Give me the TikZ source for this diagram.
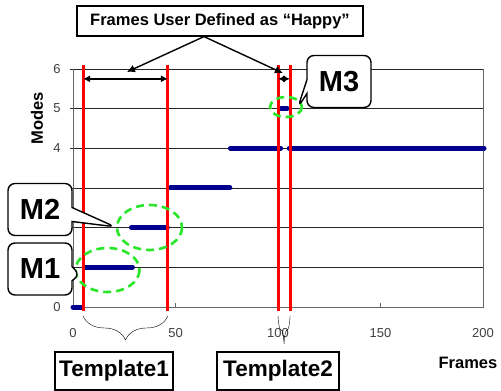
\documentclass[tikz,border=0pt]{standalone}
\usepackage{fontspec}
\setmainfont{Liberation Sans}
\usetikzlibrary{shapes.callouts,decorations.pathreplacing,arrows.meta}
\definecolor{datablue}{RGB}{0,0,140}
\definecolor{ringgreen}{RGB}{40,230,40}
\tikzset{
  labelbox/.style={draw, line width=1.2pt, fill=white, inner sep=2pt, font=\bfseries\fontsize{22.5}{22.5}\selectfont},
  callbox/.style={rectangle callout, draw, line width=1.4pt, rounded corners=7pt, fill=white, minimum width=64pt,
    minimum height=52pt, callout pointer width=14pt, font=\bfseries\fontsize{29}{29}\selectfont},
  modeline/.style={datablue, line width=5pt, line cap=round},
  cutline/.style={red, line width=3pt},
  ring/.style={ringgreen, line width=2.6pt, dash pattern=on 8pt off 5pt},
  ticklabel/.style={font=\fontsize{13}{13}\selectfont, text=black!75},
  axistitle/.style={font=\bfseries\fontsize{16.5}{16.5}\selectfont},
  pointer/.style={line width=1.4pt, -{Latex[length=8pt,width=8pt]}},
  span/.style={line width=1.4pt, {Latex[length=7pt,width=7pt]}-{Latex[length=7pt,width=7pt]}}
}
\begin{document}
\begin{tikzpicture}[x=1pt, y=-1pt]
\useasboundingbox (0,0) rectangle (501,391);
\begin{scope}[shift={(73,307)}, x=2.05pt, y=39.7pt]
  \foreach \m in {1,...,6} \draw[black!85, thin] (-1.5,\m) -- (200,\m);
  \draw[black!60, thin] (0,6) -- (0,0) -- (200,0) -- (200,6);
  \foreach \f in {50,100,150} \draw[black!60, thin] (\f,0) -- (\f,0.1);
  \foreach \m in {0,4,5,6} \node[ticklabel] (y\m) at (-7.8,\m) {\m};
  \foreach \f in {0,50,100,150,200} \node[ticklabel] (x\f) at (\f,-0.655) {\f};
  % modes over the frames
  \draw[modeline] (0,0) -- (4.5,0);
  \draw[modeline] (5.8,1) -- (29,1);
  \draw[modeline] (28.5,2) -- (46,2);
  \draw[modeline] (47.5,3) -- (76.5,3);
  \draw[modeline] (76.8,4) -- (101.3,4);
  \draw[modeline] (105.5,4) -- (200.5,4);
  \draw[modeline] (101.5,5) -- (104.5,5);
  \coordinate (r1t) at (4.9,6.1);   \coordinate (r1b) at (4.9,-0.1);
  \coordinate (r2t) at (46.3,6.1);  \coordinate (r2b) at (46.3,-0.1);
  \coordinate (r3t) at (100,6.1);   \coordinate (r3b) at (100,-0.1);
  \coordinate (r4t) at (105.9,6.1); \coordinate (r4b) at (105.9,-0.1);
  \coordinate (hit1) at (26.3,5.92);
  \coordinate (hit2) at (102.4,5.89);
  \coordinate (p1) at (3.4,0.81);
  \coordinate (p2) at (20.5,2.02);
  \coordinate (p3) at (109.8,5.04);
\end{scope}
\foreach \r in {1,...,4} \draw[cutline] (r\r t) -- (r\r b);
\draw[span] ([yshift=-14pt]r1t) -- ([yshift=-14pt]r2t);
\draw[span] ([yshift=-14pt]r3t) -- ([yshift=-14pt]r4t);
\draw[ring] (107.5,270) ellipse [x radius=32, y radius=22];
\draw[ring] (149.5,227.5) ellipse [x radius=32.5, y radius=22.5];
\draw[ring] (286,107) ellipse [x radius=16, y radius=10];
\node[labelbox, font=\bfseries\fontsize{16.5}{16.5}\selectfont, minimum width=286pt, minimum height=30pt]
  (happy) at (220,21) {Frames User Defined as “Happy”};
\draw[pointer] ([xshift=-16pt]happy.south) -- (hit1);
\draw[pointer] ([xshift=-16pt]happy.south) -- (hit2);
\draw[decorate, decoration={brace, mirror, amplitude=24pt}] ([yshift=-5pt]r1b) -- ([yshift=-5pt]r2b);
\draw[decorate, decoration={brace, mirror, amplitude=28pt}] ([yshift=-5pt]r3b) -- ([yshift=-5pt]r4b);
\node[labelbox, minimum width=118pt, minimum height=38pt] (tmpl1) at (114,371) {Template1};
\node[labelbox, minimum width=122pt, minimum height=38pt] (tmpl2) at (278,371) {Template2};
\node[callbox, callout absolute pointer={(p1)}] (m1) at (40,269) {M1};
\node[callbox, callout absolute pointer={(p2)}] (m2) at (40,209.5) {M2};
\node[callbox, callout absolute pointer={(p3)}] (m3) at (339,81.5) {M3};
\node[axistitle, rotate=90] (modes) at (37,118) {Modes};
\node[axistitle] (frames) at (468,363) {Frames};
\end{tikzpicture}
\end{document}
